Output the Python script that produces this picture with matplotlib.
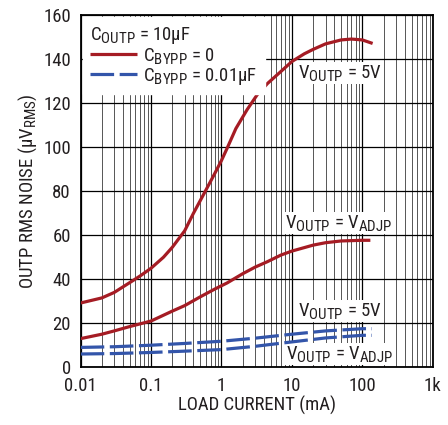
"""Output RMS noise vs load current."""

import numpy as np
import matplotlib
matplotlib.use('Agg')
import matplotlib.pyplot as plt
from matplotlib import font_manager
from matplotlib.ticker import FixedLocator, LogLocator, NullFormatter

# Values
current_5v = [0.01, 0.02, 0.03, 0.05, 0.07, 0.1, 0.15, 0.2, 0.3, 0.4, 0.6, 0.8,
              1, 1.2, 1.6, 2.3, 3.2, 4.5, 7, 10, 15, 20, 30, 50, 70, 100, 140]
noise_5v = [29.2, 31.5, 34, 38.5, 41.5, 45, 50, 54.5, 62, 70, 80.5, 88,
            94, 99.5, 108.5, 117, 123.8, 129, 134.5, 139, 142.5, 144.5, 147,
            148.8, 149.2, 148.8, 147.2]

current_adj = [0.01, 0.02, 0.03, 0.05, 0.1, 0.2, 0.3, 0.5, 0.8, 1.2, 2, 3, 4.5,
               7, 10, 20, 30, 50, 100, 130]
noise_adj = [13, 15, 16.5, 18.5, 21, 25.5, 28, 32, 35.5, 38.3, 42.5, 45.5, 48,
             51, 52.8, 55.5, 56.6, 57.4, 57.7, 57.7]

current_byp = [0.01, 0.03, 0.1, 0.3, 1, 3, 10, 30, 100, 137]
noise_byp_5v = [9, 9.3, 10, 10.8, 11.8, 13.2, 15, 16.5, 17.5, 17.5]
noise_byp_adj = [6, 6.2, 6.7, 7.3, 8, 9.5, 11.5, 13.3, 14.5, 14.5]

x_ticks = [0.01, 0.1, 1, 10, 100, 1000]
x_tick_labels = ['0.01', '0.1', '1', '10', '100', '1k']
y_ticks = list(range(0, 161, 20))

RED = '#a51c24'
BLUE = '#3355aa'
INK = '#231f20'

# narrow grotesque if there is one, else condensed DejaVu
available = {f.name for f in font_manager.fontManager.ttflist}
for fam in ['Roboto Condensed', 'Archivo Narrow', 'PT Sans Narrow']:
    if fam in available:
        plt.rcParams['font.family'] = [fam, 'DejaVu Sans']
        break
else:
    plt.rcParams['font.family'] = ['DejaVu Sans']
    plt.rcParams['font.stretch'] = 'condensed'
plt.rcParams['mathtext.default'] = 'regular'
plt.rcParams['lines.scale_dashes'] = False

# subscripts in the reference are bigger than mathtext's default 0.7
try:
    import matplotlib._mathtext as _mt
    _mt.SHRINK_FACTOR = 0.8
except Exception:
    pass

FS = 13.5

fig = plt.figure(figsize=(4.48, 4.25), dpi=100)
ax = fig.add_axes([0.180, 0.136, 0.786, 0.828])

ax.set_xscale('log')
ax.set_xlim(0.01, 1000)
ax.set_ylim(0, 160)

ax.xaxis.set_major_locator(FixedLocator(x_ticks))
ax.set_xticklabels(x_tick_labels)
ax.xaxis.set_minor_locator(LogLocator(base=10, subs=np.arange(2, 10)))
ax.xaxis.set_minor_formatter(NullFormatter())
ax.set_yticks(y_ticks)

ax.grid(which='major', axis='both', color='black', linewidth=0.9, zorder=0)
ax.grid(which='minor', axis='x', color='#555555', linewidth=0.7, zorder=0)
ax.set_axisbelow(True)
ax.tick_params(which='both', length=0, labelsize=FS, colors=INK)
ax.tick_params(axis='y', pad=7)
ax.tick_params(axis='x', pad=7)

for sp in ax.spines.values():
    sp.set_linewidth(1.3)
    sp.set_color('black')

dash = (0, (17, 4))
l1, = ax.plot(current_5v, noise_5v, color=RED, lw=2.3, zorder=5,
              solid_capstyle='butt', label='C$_{BYPP}$ = 0')
ax.plot(current_adj, noise_adj, color=RED, lw=2.3, zorder=5, solid_capstyle='butt')
l2, = ax.plot(current_byp, noise_byp_5v, color=BLUE, lw=2.3, ls=dash, zorder=5,
              label='C$_{BYPP}$ = 0.01µF')
ax.plot(current_byp, noise_byp_adj, color=BLUE, lw=2.3, ls=dash, zorder=5)

leg = ax.legend(handles=[l1, l2], loc='upper left', title='C$_{OUTP}$ = 10µF',
                fontsize=FS, title_fontsize=FS, handlelength=2.5,
                handletextpad=0.35, labelspacing=0.0, borderpad=0.4,
                borderaxespad=0.1, frameon=True, fancybox=False,
                facecolor='white', edgecolor='white', framealpha=1)
leg._legend_box.align = 'left'
leg.get_title().set_color(INK)
for t in leg.get_texts():
    t.set_color(INK)
leg.set_zorder(6)

box = dict(facecolor='white', edgecolor='none', pad=1.0)
txt = dict(fontsize=FS, color=INK, va='center', ha='left', zorder=4, bbox=box)
ax.text(12.1, 133.8, 'V$_{OUTP}$ = 5V', **txt)
ax.text(8.0, 65.6, 'V$_{OUTP}$ = V$_{ADJP}$', **txt)
ax.text(12.1, 25.6, 'V$_{OUTP}$ = 5V', **txt)
ax.text(8.2, 6.0, 'V$_{OUTP}$ = V$_{ADJP}$', **txt)

ax.set_xlabel('LOAD CURRENT (mA)', fontsize=FS, color=INK, labelpad=1)
ax.set_ylabel('OUTP RMS NOISE (µV$_{RMS}$)', fontsize=FS, color=INK, labelpad=3)

fig.savefig('out.png', dpi=100)
